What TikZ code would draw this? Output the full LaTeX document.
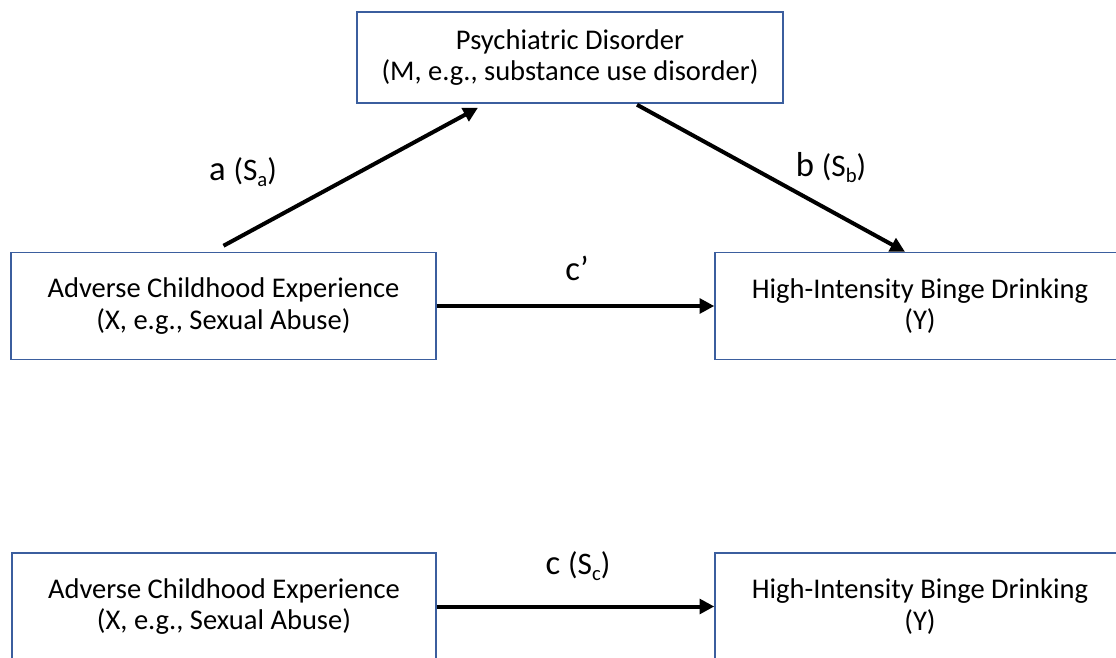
\documentclass[tikz,border=0pt]{standalone}
\usepackage{fontspec}
\setmainfont{Carlito}
\usetikzlibrary{calc,arrows.meta}
\definecolor{boxblue}{RGB}{59,94,158}
\newcommand{\separt}[1]{{\fontsize{23.5}{25}\selectfont (S\raisebox{-0.4ex}{\fontsize{15.5}{16}\selectfont #1})}}

\begin{document}
\begin{tikzpicture}[x=0.75pt, y=-0.75pt,
		varbox/.style={draw=boxblue, line width=1.1pt, fill=white, align=center, inner sep=0pt,
			font=\fontsize{21.4}{23.4}\selectfont},
		effect/.style={line width=3pt, -{Triangle[length=11pt,width=11pt]}},
		coef/.style={inner sep=0pt, font=\fontsize{26}{28}\selectfont}]
		%%%%% START %%%%%
		
		\useasboundingbox (0, 0) rectangle (1116, 657);
		\fill[white] (0, 0) rectangle (1116, 657);
		\clip (0, 0) rectangle (1116, 657);
		
		% mediation model
		\node[varbox, minimum width=319.5pt, minimum height=68.25pt] (mtop) at (570, 57.5) {Psychiatric Disorder\\(M, e.g., substance use disorder)};
		\node[varbox, minimum width=318.75pt, minimum height=80.25pt] (xtop) at (223.5, 306) {Adverse Childhood Experience\\(X, e.g., Sexual Abuse)};
		\node[varbox, minimum width=307.5pt, minimum height=80.25pt] (ytop) at (920, 306) {High-Intensity Binge Drinking\\(Y)};
		
		\draw[effect] ($(xtop.north)+(0, -6)$) -- ($(mtop.south)+(-92, 4)$);
		\draw[effect] ($(mtop.south)+(67, 1)$) -- ($(ytop.north)+(-15, 0)$);
		\draw[effect] (xtop.east) -- (ytop.west);
		
		\node[coef] (lbla) at (243, 172) {a \separt{a}};
		\node[coef] (lblb) at (831, 168) {b \separt{b}};
		\node[coef] (lblcp) at (577, 268) {c’};
		
		% total effect
		\node[varbox, minimum width=318pt, minimum height=80.25pt] (xbot) at (224, 606.5) {Adverse Childhood Experience\\(X, e.g., Sexual Abuse)};
		\node[varbox, minimum width=307.5pt, minimum height=80.25pt] (ybot) at (920, 606.5) {High-Intensity Binge Drinking\\(Y)};
		
		\draw[effect] (xbot.east) -- (ybot.west);
		
		\node[coef] (lblc) at (578, 566) {c \separt{c}};
		
		%%%%% END %%%%%
\end{tikzpicture}
\end{document}
